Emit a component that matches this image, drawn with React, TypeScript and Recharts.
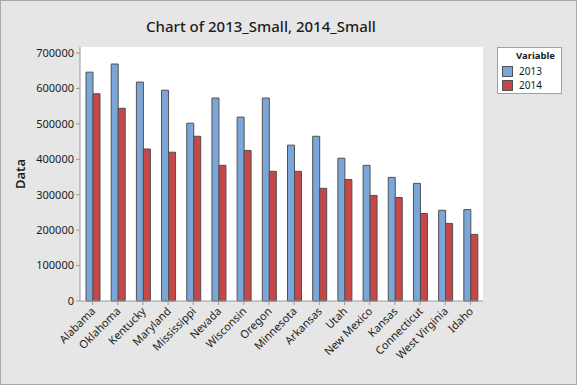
import React from "react";
import { Bar, BarChart, CartesianGrid, Legend, XAxis, YAxis } from "recharts";

const states = [
  "Alabama", "Oklahoma", "Kentucky", "Maryland", "Mississippi", "Nevada", "Wisconsin", "Oregon",
  "Minnesota", "Arkansas", "Utah", "New Mexico", "Kansas", "Connecticut", "West Virginia", "Idaho",
];
const small2013 = [
  646000, 669000, 618000, 595000, 502000, 573000, 519000, 573000,
  440000, 465000, 403000, 383000, 349000, 332000, 256000, 258000,
];
const small2014 = [
  585000, 544000, 429000, 420000, 465000, 383000, 425000, 366000,
  366000, 318000, 343000, 298000, 292000, 247000, 219000, 188000,
];
const yTicks = [0, 100000, 200000, 300000, 400000, 500000, 600000, 700000];

const data = states.map((state, i) => ({ state, y2013: small2013[i], y2014: small2014[i] }));

const FONT = "'Noto Sans', 'Open Sans', sans-serif";
const AXIS_GRAY = "#9a9a9a";
const TEXT = "#1c1c1c";

function XTick({ x, y, payload }: any) {
  return (
    <g transform={`translate(${x},${y})`}>
      <text x={0} y={0} dx={-1} dy={6} textAnchor="end" transform="rotate(-45)" fontSize={11} fill={TEXT} fontFamily={FONT}>
        {payload.value}
      </text>
    </g>
  );
}

function LegendBox({ payload }: any) {
  return (
    <div style={{ width: 65, height: 47, background: "#fff", border: "1px solid #a0a0a0", fontFamily: FONT, fontSize: 10, lineHeight: "14px", color: TEXT, boxSizing: "border-box", paddingTop: 1 }}>
      <div style={{ fontWeight: 700, fontSize: 9.5, textAlign: "right", paddingRight: 6, height: 15 }}>Variable</div>
      {(payload || []).map((p: any) => (
        <div key={p.value} style={{ display: "flex", alignItems: "center", marginLeft: 4, height: 14 }}>
          <span style={{ width: 9, height: 9, background: p.color, border: "1px solid #505050", display: "inline-block", marginRight: 6 }} />
          <span>{p.value}</span>
        </div>
      ))}
    </div>
  );
}

export default function App() {
  return (
    <div style={{ position: "fixed", left: 0, top: 0, width: 577, height: 385, background: "#e6e6e6", border: "1px solid #a8a8a8", boxSizing: "border-box" }}>
      <div style={{ position: "absolute", left: 0, width: 520, top: 15, textAlign: "center", fontFamily: FONT, fontSize: 15, fontWeight: 500, color: TEXT }}>
        Chart of 2013_Small, 2014_Small
      </div>
      <div style={{ position: "absolute", left: -1, top: -1 }}>
        <BarChart width={577} height={385} data={data} margin={{ top: 47, right: 94, bottom: 0, left: 0 }} barGap={0} barSize={7}>
          <CartesianGrid horizontal={false} vertical={false} fill="#ffffff" />
          <XAxis
            dataKey="state"
            height={84}
            interval={0}
            tick={<XTick />}
            tickSize={4}
            tickLine={{ stroke: AXIS_GRAY }}
            axisLine={{ stroke: AXIS_GRAY }}
          />
          <XAxis xAxisId="top" dataKey="state" orientation="top" height={0} tick={false} tickLine={false} axisLine={{ stroke: AXIS_GRAY }} />
          <YAxis
            width={80}
            domain={[0, 717000]}
            ticks={yTicks}
            interval={0}
            tickSize={4}
            tick={{ fontSize: 11, fill: TEXT, fontFamily: FONT }}
            tickLine={{ stroke: AXIS_GRAY }}
            axisLine={{ stroke: AXIS_GRAY }}
            label={{ value: "Data", angle: -90, position: "insideLeft", offset: 20, style: { fontSize: 13, fontWeight: 600, fill: TEXT, fontFamily: FONT, textAnchor: "middle" } }}
          />
          <YAxis yAxisId="right" orientation="right" width={0} domain={[0, 717000]} tick={false} tickLine={false} axisLine={{ stroke: AXIS_GRAY }} />
          <Legend
            layout="vertical"
            align="center"
            verticalAlign="middle"
            content={<LegendBox />}
            wrapperStyle={{ left: 497, top: 47, width: 65 }}
          />
          <Bar dataKey="y2013" name="2013" fill="#7ba6d9" stroke="#505050" strokeWidth={1} isAnimationActive={false} />
          <Bar dataKey="y2014" name="2014" fill="#c64747" stroke="#505050" strokeWidth={1} isAnimationActive={false} />
        </BarChart>
      </div>
    </div>
  );
}
